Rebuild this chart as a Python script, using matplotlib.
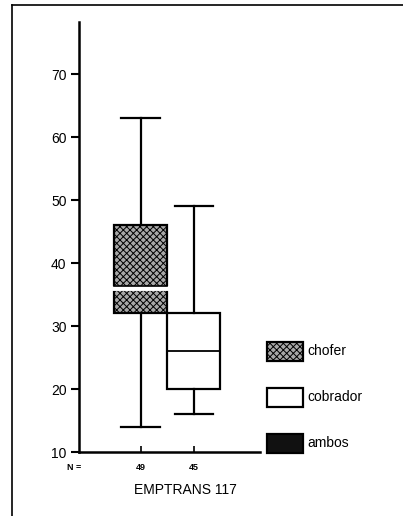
import matplotlib
matplotlib.use("Agg")
import matplotlib.pyplot as plt
from matplotlib.patches import Rectangle
from matplotlib.lines import Line2D

plt.rcParams['font.family'] = ['Liberation Sans', 'DejaVu Sans']
plt.rcParams['hatch.linewidth'] = 0.7

groups = ["chofer", "cobrador"]
n_counts = [49, 45]
whislo = [14, 16]
q1 = [32, 20]
med = [36, 26]
q3 = [46, 32]
whishi = [63, 49]
legend_labels = ["chofer", "cobrador", "ambos"]
yticks = [10, 20, 30, 40, 50, 60, 70]
xlabel = "EMPTRANS 117"

W, H = 403, 516
fig = plt.figure(figsize=(W / 100, H / 100), dpi=100)
ax = fig.add_axes([79 / W, 1 - 452 / H, 181 / W, 430 / H])

stats = []
for i, g in enumerate(groups):
    stats.append(dict(label=g, whislo=whislo[i], q1=q1[i], med=med[i],
                      q3=q3[i], whishi=whishi[i], fliers=[]))

GRAY = '#a8a8a8'
bp = ax.bxp(stats, positions=[1, 2], widths=1.0, patch_artist=True,
            showfliers=False, manage_ticks=False,
            boxprops=dict(linewidth=1.6, edgecolor='black'),
            whiskerprops=dict(linewidth=1.6, color='black'),
            capprops=dict(linewidth=1.6, color='black'),
            medianprops=dict(linewidth=1.3, color='black'),
            capwidths=0.72)
bp['boxes'][0].set_facecolor(GRAY)
bp['boxes'][0].set_hatch('xxxxx')
bp['boxes'][1].set_facecolor('white')
# median of first box drawn as a light band
m0 = bp['medians'][0]
ax.plot(m0.get_xdata(), m0.get_ydata(), color='white', lw=3.5, zorder=5)
ax.plot(m0.get_xdata(), [med[0] + 0.35] * 2, color='black', lw=1.2, zorder=6)

ax.set_xlim(-0.16, 3.25)
ax.set_ylim(10, 78.3)
ax.set_yticks(yticks)
ax.set_xticks([1, 2])
ax.set_xticklabels([])
for s in ['top', 'right']:
    ax.spines[s].set_visible(False)
ax.spines['left'].set_linewidth(1.8)
ax.spines['bottom'].set_linewidth(1.8)
ax.tick_params(axis='y', direction='out', length=6, width=1.5,
               labelsize=10, pad=3)
ax.tick_params(axis='x', direction='in', length=4, width=1.2)
ax.patch.set_alpha(0)

# N = labels
fig.text(74 / W, 1 - 467 / H, "N =", fontsize=6.5, ha='center', va='center',
         fontweight='bold')
for i, n in enumerate(n_counts):
    ax.annotate(str(n), xy=(i + 1, 10), xytext=(0, -11), textcoords='offset points',
                ha='center', va='center', fontsize=6.5, fontweight='bold')
fig.text(185 / W, 1 - 490 / H, xlabel, ha='center', va='center', fontsize=10)

# legend
leg_y = [351, 397, 443]
for i, lab in enumerate(legend_labels):
    yc = 1 - leg_y[i] / H
    fc = [GRAY, 'white', '#111111'][i]
    r = Rectangle((267 / W, yc - 10 / H), 36 / W, 19 / H, transform=fig.transFigure,
                  facecolor=fc, edgecolor='black', lw=1.6,
                  hatch='xxxxx' if i == 0 else None)
    fig.add_artist(r)
    fig.text(307 / W, yc, lab, ha='left', va='center', fontsize=10)

# figure frame
fig.add_artist(Line2D([12 / W, 12 / W], [0, 1 - 5 / H], transform=fig.transFigure,
                      color='black', lw=1.2))
fig.add_artist(Line2D([12 / W, 1], [1 - 5 / H, 1 - 5 / H], transform=fig.transFigure,
                      color='black', lw=1.2))

fig.savefig("out.png", dpi=100)
